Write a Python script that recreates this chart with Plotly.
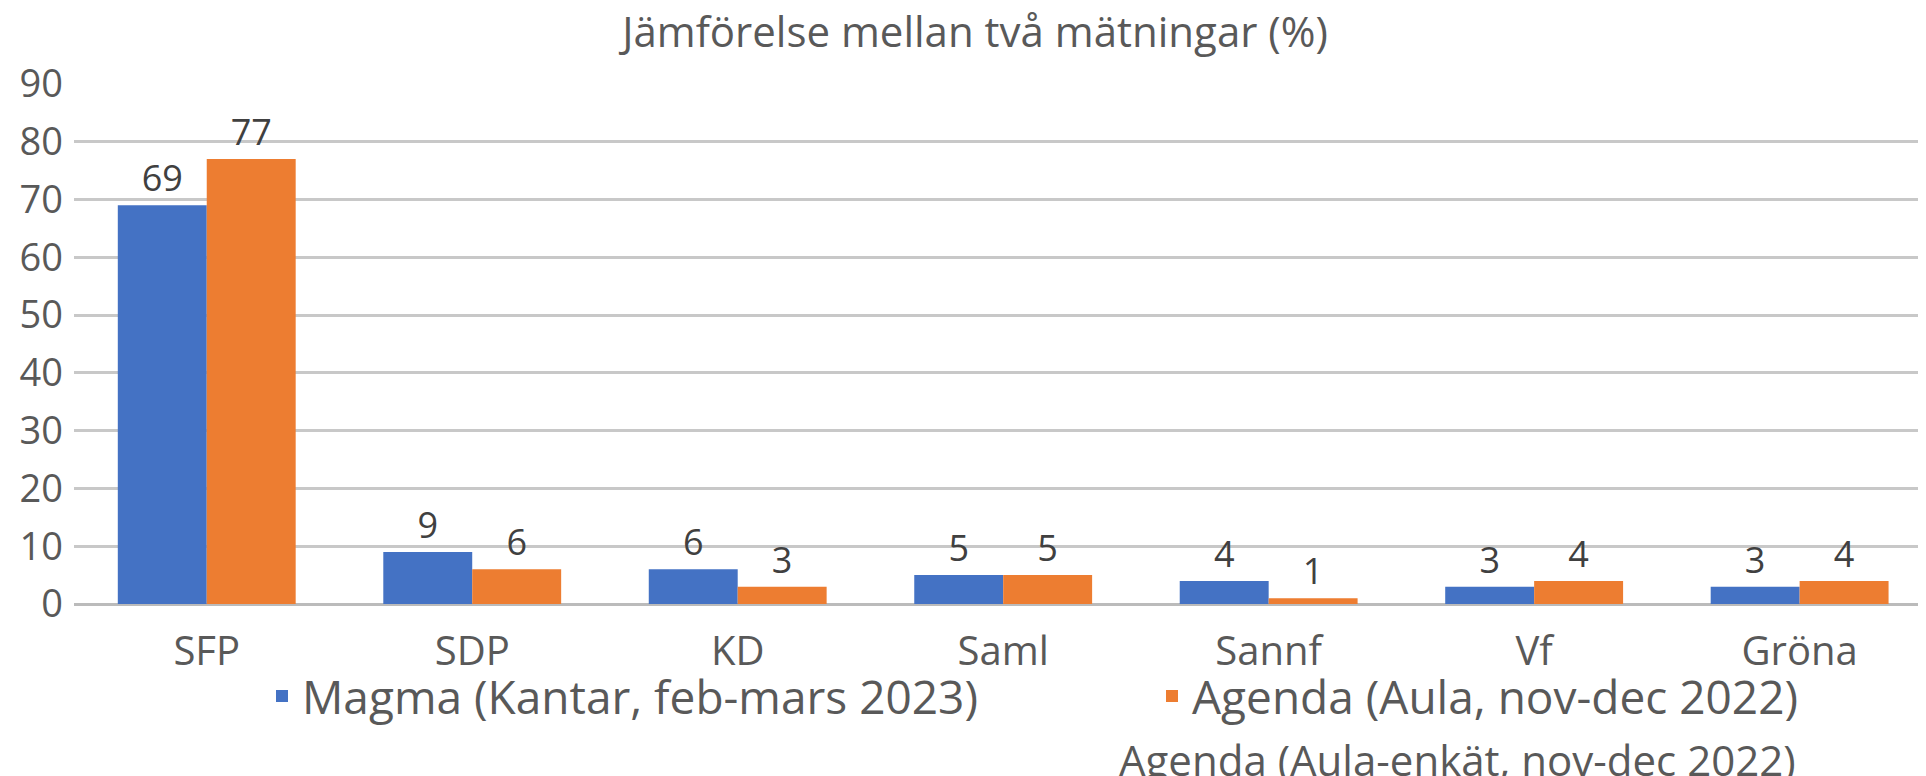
import plotly.graph_objects as go

# data
partier = ["SFP", "SDP", "KD", "Saml", "Sannf", "Vf", "Gröna"]
magma = [69, 9, 6, 5, 4, 3, 3]
agenda = [77, 6, 3, 5, 1, 4, 4]
y_ticks = [0, 10, 20, 30, 40, 50, 60, 70, 80, 90]

namn_magma = "Magma (Kantar, feb-mars 2023)"
namn_agenda = "Agenda (Aula, nov-dec 2022)"
titel = "Jämförelse mellan två mätningar (%)"
kalla = "Agenda (Aula-enkät, nov-dec 2022)"

BLA = "#4472C4"
ORANGE = "#ED7D31"
GRA_TEXT = "#595959"
FONT = "Open Sans"

# sidan har 8px marginal i body, figuren görs 8px mindre
W, H = 1918, 768
ML, MT, MB = 66, 76, 172
PW, PH = W - ML, H - MT - MB

fig = go.Figure()
fig.add_trace(go.Bar(
    x=partier, y=magma, name=namn_magma, marker_color=BLA,
    text=magma, textposition="outside", constraintext="none",
    textfont=dict(size=36, color="#404040", family=FONT),
    cliponaxis=False, legend="legend",
))
fig.add_trace(go.Bar(
    x=partier, y=agenda, name=namn_agenda, marker_color=ORANGE,
    text=agenda, textposition="outside", constraintext="none",
    textfont=dict(size=36, color="#404040", family=FONT),
    cliponaxis=False, legend="legend2",
))

leg_font = dict(size=46, color=GRA_TEXT, family=FONT)

fig.update_layout(
    width=W, height=H,
    template="none",
    paper_bgcolor="white", plot_bgcolor="white",
    margin=dict(l=ML, r=0, t=MT, b=MB, autoexpand=False),
    barmode="group", bargap=0.33, bargroupgap=0,
    font=dict(family=FONT, color=GRA_TEXT),
    title=dict(text=titel, x=967 / W, xref="container", xanchor="center",
               y=1 - 24 / H, yref="container", yanchor="middle",
               font=dict(size=42, color=GRA_TEXT, family=FONT)),
    legend=dict(orientation="h", xref="container", yref="container",
                x=254 / W, xanchor="left", y=1 - 688 / H, yanchor="middle",
                font=leg_font, bgcolor="rgba(0,0,0,0)"),
    legend2=dict(orientation="h", xref="container", yref="container",
                 x=1144 / W, xanchor="left", y=1 - 688 / H, yanchor="middle",
                 font=leg_font, bgcolor="rgba(0,0,0,0)"),
    showlegend=True,
)

fig.update_xaxes(
    range=[-0.5, 6.476], showgrid=False, zeroline=False, showline=False,
    ticks="", ticklabelstandoff=20, automargin=False,
    tickfont=dict(size=40, color=GRA_TEXT, family=FONT),
)
fig.update_yaxes(
    range=[0, 90], tickvals=y_ticks, showgrid=True, gridcolor="#C8C8C8",
    gridwidth=3, zeroline=True, zerolinecolor="#BBBBBB", zerolinewidth=3,
    showline=False, ticks="", ticklabelstandoff=10, automargin=False,
    tickfont=dict(size=38, color=GRA_TEXT, family=FONT),
)

# källa under diagrammet
fig.add_annotation(
    text=kalla, xref="paper", yref="paper",
    x=(1449.5 - ML) / PW, y=(PH + MT - 751) / PH,
    xanchor="center", yanchor="middle",
    showarrow=False, font=dict(size=42, color=GRA_TEXT, family=FONT),
)

fig.write_html("out.html")
